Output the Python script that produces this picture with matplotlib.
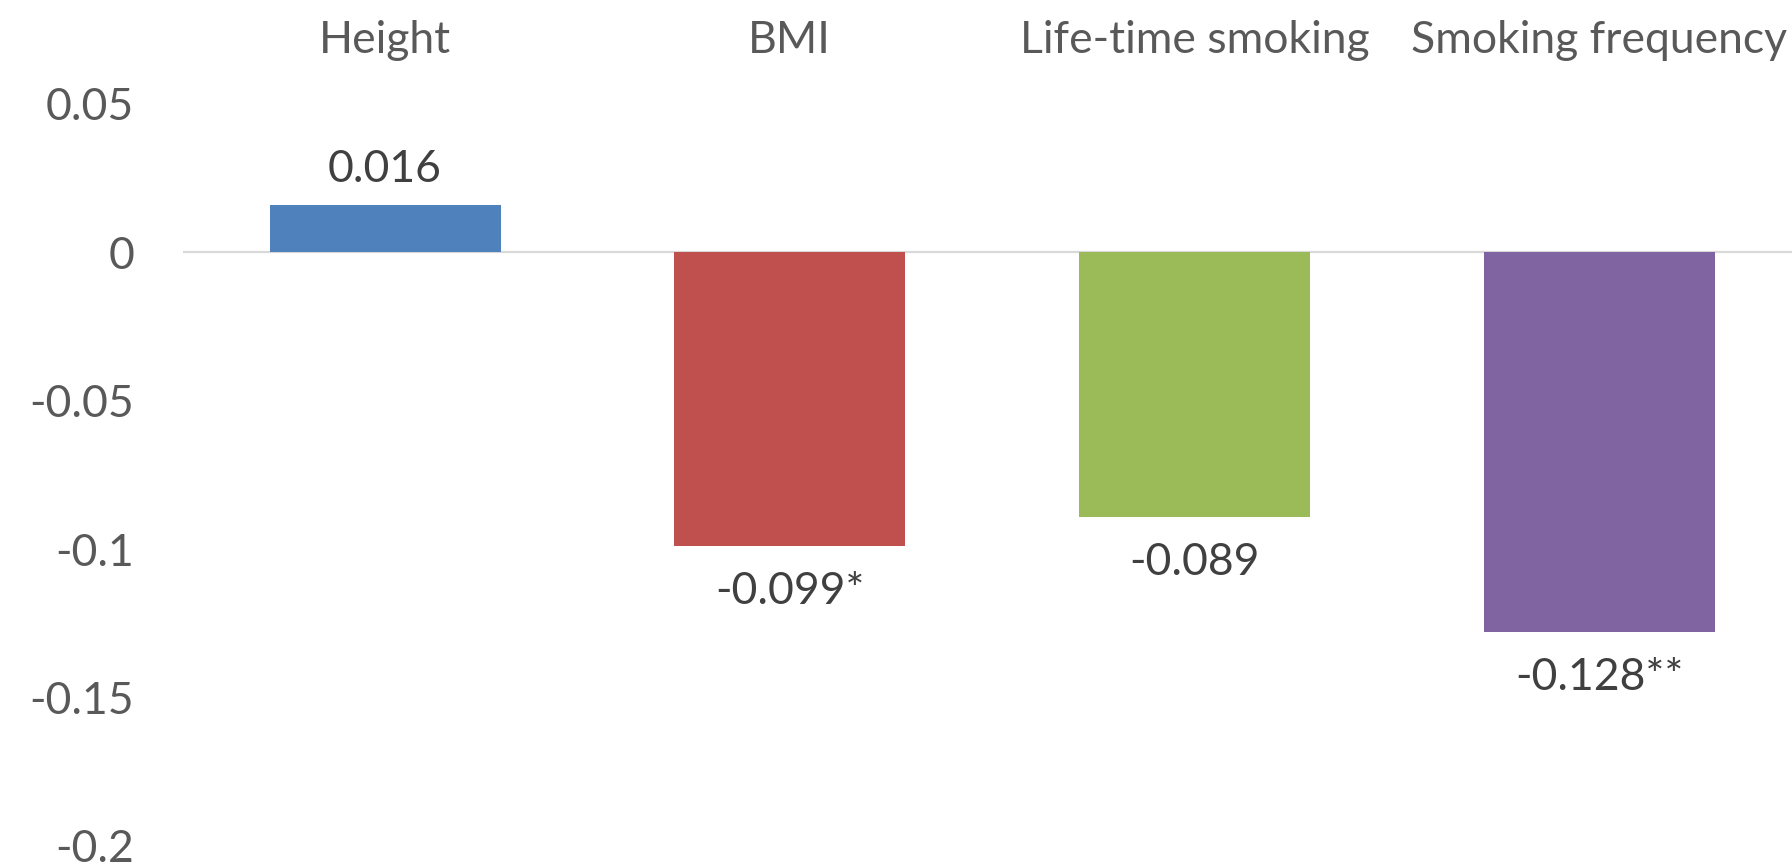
import matplotlib
matplotlib.use("Agg")
import matplotlib.pyplot as plt
from matplotlib.transforms import blended_transform_factory

categories = ["Height", "BMI", "Life-time smoking", "Smoking frequency"]
values = [0.016, -0.099, -0.089, -0.128]
value_labels = ["0.016", "-0.099*", "-0.089", "-0.128**"]
colors = ["#4F81BD", "#C0504D", "#9BBB59", "#8064A2"]
yticks = [0.05, 0, -0.05, -0.1, -0.15, -0.2]
ytick_labels = ["0.05", "0", "-0.05", "-0.1", "-0.15", "-0.2"]

plt.rcParams["font.family"] = ["Lato", "DejaVu Sans"]
FS = 32

W, H = 1792, 865
fig = plt.figure(figsize=(W / 100, H / 100), dpi=100)
left = 182.7 / W
right = 1801.5 / W
top = 1 - 104.0 / H
bottom = 1 - 846.0 / H
ax = fig.add_axes([left, bottom, right - left, top - bottom])

x = list(range(len(categories)))
ax.bar(x, values, width=0.571, color=colors, zorder=2)
ax.axhline(0, color="#D9D9D9", lw=1.6, zorder=1)

ax.set_xlim(-0.5, len(categories) - 0.5)
ax.set_ylim(-0.2, 0.05)
ax.set_yticks(yticks)
ax.set_yticklabels(ytick_labels, fontsize=FS, color="#595959")
ax.tick_params(axis="y", length=0, pad=35)
ax.set_xticks([])
for s in ax.spines.values():
    s.set_visible(False)

# category names across the top
trans = blended_transform_factory(ax.transData, fig.transFigure)
for i, name in enumerate(categories):
    ax.text(i, 1 - 53 / H, name, transform=trans, ha="center", va="baseline",
            fontsize=FS, color="#595959", clip_on=False)

# value labels next to each bar
for i, (v, lab) in enumerate(zip(values, value_labels)):
    off = 23 if v >= 0 else -58
    ax.annotate(lab, (i, v), xytext=(0, off), textcoords="offset pixels",
                ha="center", va="baseline", fontsize=FS, color="#404040",
                annotation_clip=False)

fig.savefig("out.png", dpi=100, facecolor="white")
